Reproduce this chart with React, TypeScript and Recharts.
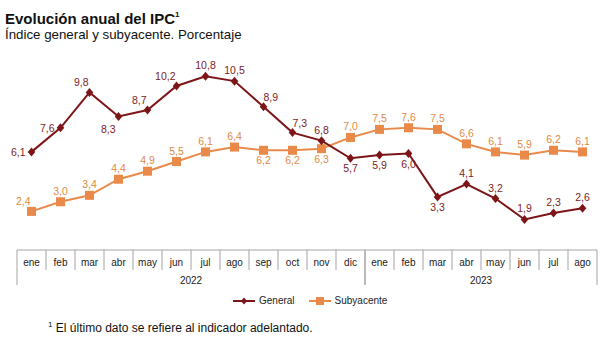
import React from 'react';
import { LineChart, Line, XAxis, YAxis, LabelList } from 'recharts';

const months = ['ene', 'feb', 'mar', 'abr', 'may', 'jun', 'jul', 'ago', 'sep', 'oct', 'nov', 'dic', 'ene', 'feb', 'mar', 'abr', 'may', 'jun', 'jul', 'ago'];
const years = ['2022', '2022', '2022', '2022', '2022', '2022', '2022', '2022', '2022', '2022', '2022', '2022', '2023', '2023', '2023', '2023', '2023', '2023', '2023', '2023'];
const general = [6.1, 7.6, 9.8, 8.3, 8.7, 10.2, 10.8, 10.5, 8.9, 7.3, 6.8, 5.7, 5.9, 6.0, 3.3, 4.1, 3.2, 1.9, 2.3, 2.6];
const subyacente = [2.4, 3.0, 3.4, 4.4, 4.9, 5.5, 6.1, 6.4, 6.2, 6.2, 6.3, 7.0, 7.5, 7.6, 7.5, 6.6, 6.1, 5.9, 6.2, 6.1];

// label placement per point (style only)
const generalLabelPos = ['L', 'L', 'AL', 'BL', 'AL', 'AL', 'A', 'A', 'AR', 'AR', 'A', 'B', 'B', 'B', 'B', 'A', 'A', 'A', 'A', 'A'];
const subyacenteLabelPos = ['AL', 'A', 'A', 'A', 'A', 'A', 'A', 'A', 'B', 'B', 'B', 'A', 'A', 'A', 'A', 'A', 'A', 'A', 'A', 'A'];

const data = months.map((m, i) => ({ month: m, year: years[i], general: general[i], subyacente: subyacente[i] }));

const W = 608;
const H = 360;
const M = { top: 57, right: 11, bottom: 70, left: 17 };
const XH = 40;
const BAND = (W - M.left - M.right) / months.length;
const FONT = '"Liberation Sans", Arial, Helvetica, sans-serif';
const GEN = '#7d1518';
const GEN_TXT = '#7a1d26';
const SUB = '#e98a4b';
const SUB_TXT = '#e08a45';
const AXIS = '#a3a3a3';

const fmt = (v: number) => v.toFixed(1).replace('.', ',');

const makeLabel = (positions: string[], color: string) => (props: any) => {
  const { x, y, value, index } = props;
  if (x == null || y == null) return null;
  const p = positions[index];
  let dx = 0;
  let dy = -7;
  let anchor: any = 'middle';
  switch (p) {
    case 'L': dx = -6; dy = 4; anchor = 'end'; break;
    case 'AL': dx = -1; dy = -6; anchor = 'end'; break;
    case 'AR': dx = 0; dy = -6; anchor = 'start'; break;
    case 'B': dx = 0; dy = 14; anchor = 'middle'; break;
    case 'BL': dx = -3; dy = 16; anchor = 'end'; break;
    default: dx = 0; dy = -7; anchor = 'middle';
  }
  return (
    <text key={`l${index}`} x={x + dx} y={y + dy} textAnchor={anchor} fill={color} fontSize={10.5} fontFamily={FONT}>
      {fmt(value)}
    </text>
  );
};

const diamond = (props: any) => {
  const { cx, cy, index } = props;
  if (cx == null || cy == null) return <g key={`d${index}`} />;
  return (
    <path key={`d${index}`} d={`M${cx},${cy - 4.5}L${cx + 3.8},${cy}L${cx},${cy + 4.5}L${cx - 3.8},${cy}Z`} fill={GEN} />
  );
};

const square = (props: any) => {
  const { cx, cy, index } = props;
  if (cx == null || cy == null) return <g key={`s${index}`} />;
  return <rect key={`s${index}`} x={cx - 4.5} y={cy - 4.5} width={9} height={9} fill={SUB} />;
};

const MonthTick = (props: any) => {
  const { x, y, payload } = props;
  const i: number = payload?.index ?? props.index ?? 0;
  const n = months.length;
  const isGroupStart = i === 0 || years[i] !== years[i - 1];
  const isGroupEnd = i === n - 1 || years[i] !== years[i + 1];
  let count = 0;
  if (isGroupStart) {
    for (let k = i; k < n && years[k] === years[i]; k++) count++;
  }
  const left = x - BAND / 2;
  const right = x + BAND / 2;
  return (
    <g>
      <text x={x} y={y + 16} textAnchor="middle" fontSize={10} fill="#222" fontFamily={FONT}>
        {payload.value}
      </text>
      <line x1={right} y1={y} x2={right} y2={y + (isGroupEnd ? 35 : 20)} stroke={AXIS} strokeWidth={1} />
      {isGroupStart && (
        <line x1={left} y1={y} x2={left} y2={y + 35} stroke={AXIS} strokeWidth={1} />
      )}
      {isGroupStart && (
        <text x={x + ((count - 1) * BAND) / 2} y={y + 34} textAnchor="middle" fontSize={10} fill="#222" fontFamily={FONT}>
          {years[i]}
        </text>
      )}
    </g>
  );
};

const LegendIcon = ({ color, kind }: { color: string; kind: string }) => (
  <svg width={22} height={10} style={{ display: 'block' }}>
    <line x1={0} y1={5} x2={22} y2={5} stroke={color} strokeWidth={2} />
    {kind === 'diamond' ? (
      <path d="M11,1.5L14,5L11,8.5L8,5Z" fill={color} />
    ) : (
      <rect x={7} y={1} width={8} height={8} fill={color} />
    )}
  </svg>
);

export default function App() {
  return (
    <div style={{ position: 'absolute', left: 0, top: 0, width: W, height: H, background: '#fff', fontFamily: FONT }}>
      <div style={{ position: 'absolute', left: 5, top: 7, fontSize: 15, fontWeight: 'bold', lineHeight: '17px', color: '#111', whiteSpace: 'nowrap' }}>
        Evolución anual del IPC<sup style={{ fontSize: 8, position: 'relative', top: -1 }}>1</sup>
      </div>
      <div style={{ position: 'absolute', left: 5, top: 27, fontSize: 13.3, lineHeight: '16px', color: '#111', whiteSpace: 'nowrap' }}>
        Índice general y subyacente. Porcentaje
      </div>
      <div style={{ position: 'absolute', left: 0, top: 0 }}>
        <LineChart width={W} height={H} data={data} margin={M}>
          <XAxis
            dataKey="month"
            height={XH}
            interval={0}
            tickSize={0}
            tickMargin={0}
            tickLine={false}
            axisLine={{ stroke: AXIS, strokeWidth: 1 }}
            padding={{ left: BAND / 2, right: BAND / 2 }}
            tick={<MonthTick />}
          />
          <YAxis hide domain={[0, 12]} />
          <Line
            dataKey="subyacente"
            stroke={SUB}
            strokeWidth={2}
            dot={square}
            activeDot={false}
            isAnimationActive={false}
          >
            <LabelList dataKey="subyacente" content={makeLabel(subyacenteLabelPos, SUB_TXT)} />
          </Line>
          <Line
            dataKey="general"
            stroke={GEN}
            strokeWidth={2}
            dot={diamond}
            activeDot={false}
            isAnimationActive={false}
          >
            <LabelList dataKey="general" content={makeLabel(generalLabelPos, GEN_TXT)} />
          </Line>
        </LineChart>
      </div>
      <div style={{ position: 'absolute', left: 233, top: 295, display: 'flex', alignItems: 'center', fontSize: 10, color: '#222', lineHeight: '12px' }}>
        <LegendIcon color={GEN} kind="diamond" />
        <span style={{ marginLeft: 4, marginRight: 14 }}>General</span>
        <LegendIcon color={SUB} kind="square" />
        <span style={{ marginLeft: 4 }}>Subyacente</span>
      </div>
      <div style={{ position: 'absolute', left: 48, top: 318, fontSize: 12, lineHeight: '14px', color: '#111', whiteSpace: 'nowrap' }}>
        <sup style={{ fontSize: 8 }}>1</sup> El último dato se refiere al indicador adelantado.
      </div>
    </div>
  );
}
